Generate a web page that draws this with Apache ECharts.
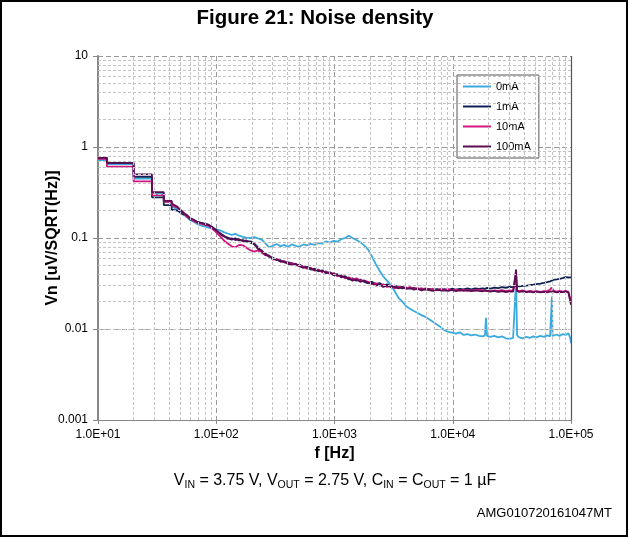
<!DOCTYPE html>
<html>
<head>
<meta charset="utf-8">
<script src="https://cdn.jsdelivr.net/npm/echarts@6/dist/echarts.min.js"></script>
<style>html,body{margin:0;padding:0;background:#fff}#c{width:629px;height:538px}</style>
</head>
<body>
<div id="c"></div>
<script>
// Frequencies [Hz] (duplicated values form the low-frequency steps)
const freqs = [
  10, 11.9, 11.9, 20, 20, 28.6, 28.6, 36, 36, 42, 42,
  47, 52, 56, 60, 65, 70, 75, 80, 86, 92,
  100, 108, 116, 125, 135, 145, 156, 168, 180, 195,
  210, 225, 242, 260, 280, 300, 325, 350, 375, 405,
  435, 470, 505, 545, 585, 630, 680, 730, 790, 850,
  915, 985, 1060, 1140, 1230, 1320, 1420, 1530, 1650, 1780,
  1920, 2070, 2230, 2400, 2580, 2780, 3000, 3230, 3480, 3750,
  4040, 4350, 4690, 5050, 5440, 5860, 6310, 6800, 7330, 7900,
  8510, 9170, 9880, 10650, 11470, 12360, 13320, 14350, 15460, 16660,
  17950, 18700, 19100, 19500, 20840, 22450, 24190, 26070, 28090, 30260,
  32400, 33600, 34300, 35000, 36500, 39000, 42000, 45000, 48000, 51000,
  55000, 59000, 63000, 66500, 68200, 69000, 69800, 72000, 76000, 80000,
  85000, 90000, 95000, 98500, 100000
];
const vn0mA = [
  0.72, 0.72, 0.65, 0.65, 0.45, 0.45, 0.31, 0.31, 0.25, 0.25, 0.225,
  0.205, 0.188, 0.17, 0.158, 0.150, 0.141, 0.137, 0.133, 0.130, 0.127,
  0.124, 0.121, 0.116, 0.112, 0.108, 0.111, 0.106, 0.103, 0.101, 0.100,
  0.102, 0.099, 0.096, 0.088, 0.079, 0.082, 0.086, 0.081, 0.084, 0.080,
  0.085, 0.082, 0.080, 0.085, 0.083, 0.086, 0.084, 0.088, 0.087, 0.092,
  0.089, 0.093, 0.091, 0.097, 0.100, 0.106, 0.100, 0.095, 0.090, 0.083,
  0.075, 0.063, 0.052, 0.044, 0.038, 0.034, 0.030, 0.026, 0.022, 0.020,
  0.0178, 0.0167, 0.0158, 0.0150, 0.0142, 0.0136, 0.0128, 0.0120, 0.0112, 0.0105,
  0.0097, 0.0093, 0.0091, 0.0089, 0.0092, 0.0086, 0.0088, 0.0085, 0.0087, 0.0084,
  0.0083, 0.0085, 0.0133, 0.0084, 0.0082, 0.0084, 0.0081, 0.0083, 0.0079, 0.0078,
  0.0080, 0.0082, 0.0350, 0.0085, 0.0081, 0.0079, 0.0082, 0.0080, 0.0083, 0.0081,
  0.0084, 0.0082, 0.0085, 0.0083, 0.0086, 0.0227, 0.0084, 0.0085, 0.0087, 0.0084,
  0.0088, 0.0086, 0.0090, 0.0080, 0.0070
];
const vn1mA = [
  0.76, 0.76, 0.67, 0.67, 0.47, 0.47, 0.28, 0.28, 0.23, 0.23, 0.205,
  0.200, 0.182, 0.178, 0.160, 0.156, 0.150, 0.146, 0.144, 0.140, 0.133,
  0.122, 0.110, 0.104, 0.101, 0.096, 0.099, 0.094, 0.095, 0.091, 0.092,
  0.087, 0.079, 0.071, 0.068, 0.062, 0.061, 0.057, 0.057, 0.054, 0.054,
  0.053, 0.050, 0.051, 0.048, 0.048, 0.045, 0.046, 0.043, 0.044, 0.041,
  0.042, 0.039, 0.040, 0.037, 0.038, 0.035, 0.036, 0.034, 0.035, 0.033,
  0.032, 0.033, 0.031, 0.032, 0.030, 0.031, 0.029, 0.030, 0.029, 0.028,
  0.0285, 0.0278, 0.0283, 0.0272, 0.0280, 0.0270, 0.0276, 0.0268, 0.0274, 0.0270,
  0.0275, 0.0268, 0.0278, 0.0270, 0.0276, 0.0272, 0.0280, 0.0273, 0.0279, 0.0276,
  0.0280, 0.0276, 0.0279, 0.0283, 0.0278, 0.0285, 0.0281, 0.0288, 0.0284, 0.0290,
  0.0288, 0.0292, 0.0300, 0.0289, 0.0294, 0.0297, 0.0300, 0.0304, 0.0308, 0.0312,
  0.0316, 0.0322, 0.0328, 0.0334, 0.0338, 0.0342, 0.0340, 0.0348, 0.0352, 0.0356,
  0.0362, 0.0372, 0.0368, 0.0375, 0.0370
];
const vn10mA = [
  0.74, 0.74, 0.61, 0.61, 0.42, 0.42, 0.296, 0.296, 0.25, 0.25, 0.23,
  0.215, 0.195, 0.172, 0.165, 0.152, 0.146, 0.143, 0.139, 0.136, 0.128,
  0.115, 0.104, 0.094, 0.087, 0.081, 0.079, 0.084, 0.083, 0.078, 0.073,
  0.071, 0.073, 0.069, 0.065, 0.064, 0.058, 0.059, 0.055, 0.056, 0.052,
  0.053, 0.051, 0.049, 0.049, 0.046, 0.047, 0.044, 0.045, 0.042, 0.043,
  0.040, 0.041, 0.038, 0.039, 0.036, 0.037, 0.035, 0.036, 0.034, 0.034,
  0.033, 0.031, 0.032, 0.030, 0.031, 0.029, 0.030, 0.028, 0.029, 0.029,
  0.0280, 0.0288, 0.0276, 0.0282, 0.0272, 0.0279, 0.0270, 0.0277, 0.0268, 0.0274,
  0.0268, 0.0274, 0.0266, 0.0271, 0.0264, 0.0270, 0.0262, 0.0268, 0.0265, 0.0270,
  0.0266, 0.0262, 0.0268, 0.0264, 0.0260, 0.0266, 0.0262, 0.0267, 0.0261, 0.0265,
  0.0263, 0.0268, 0.0400, 0.0264, 0.0260, 0.0265, 0.0258, 0.0262, 0.0257, 0.0261,
  0.0256, 0.0260, 0.0263, 0.0270, 0.0285, 0.0297, 0.0280, 0.0262, 0.0258, 0.0262,
  0.0258, 0.0262, 0.0256, 0.0250, 0.0200
];
const vn100mA = [
  0.76, 0.76, 0.67, 0.67, 0.50, 0.50, 0.32, 0.32, 0.256, 0.256, 0.24,
  0.220, 0.192, 0.180, 0.166, 0.158, 0.148, 0.147, 0.141, 0.139, 0.131,
  0.121, 0.113, 0.106, 0.098, 0.099, 0.095, 0.097, 0.092, 0.094, 0.089,
  0.085, 0.076, 0.073, 0.065, 0.064, 0.059, 0.058, 0.055, 0.055, 0.052,
  0.051, 0.052, 0.049, 0.047, 0.048, 0.046, 0.044, 0.044, 0.043, 0.042,
  0.041, 0.040, 0.039, 0.038, 0.037, 0.036, 0.034, 0.035, 0.033, 0.034,
  0.032, 0.032, 0.030, 0.031, 0.029, 0.030, 0.029, 0.029, 0.028, 0.029,
  0.0276, 0.0282, 0.0271, 0.0278, 0.0266, 0.0274, 0.0268, 0.0262, 0.0270, 0.0265,
  0.0266, 0.0262, 0.0269, 0.0260, 0.0267, 0.0263, 0.0268, 0.0261, 0.0266, 0.0262,
  0.0260, 0.0265, 0.0258, 0.0263, 0.0257, 0.0262, 0.0256, 0.0260, 0.0255, 0.0259,
  0.0258, 0.0262, 0.0450, 0.0260, 0.0256, 0.0259, 0.0254, 0.0258, 0.0253, 0.0257,
  0.0252, 0.0256, 0.0253, 0.0257, 0.0262, 0.0270, 0.0259, 0.0255, 0.0252, 0.0256,
  0.0254, 0.0258, 0.0252, 0.0240, 0.0185
];
const seriesNames = ['0mA', '1mA', '10mA', '100mA'];
const seriesColors = ['#3aaade', '#0e2252', '#d3157f', '#5b0d52'];
const xDecades = [10, 100, 1000, 10000];
const yDecades = [0.001, 0.01, 0.1, 1];
const minorMults = [2, 3, 4, 5, 6, 7, 8, 9];

const FONT = '"Liberation Sans", Arial, sans-serif';
const pairs = vals => freqs.map((f, i) => [f, vals[i]]);
const allVals = [vn0mA, vn1mA, vn10mA, vn100mA];

const minorLines = [];
xDecades.forEach(d => minorMults.forEach(m => minorLines.push({ xAxis: +(m * d).toPrecision(6) })));
yDecades.forEach(d => minorMults.forEach(m => minorLines.push({ yAxis: +(m * d).toPrecision(6) })));

const series = allVals.map((v, i) => ({
  name: seriesNames[i], type: 'line', data: pairs(v), showSymbol: false, symbol: 'none',
  z: 3, lineStyle: { width: 1.8, color: seriesColors[i] }, itemStyle: { color: seriesColors[i] }
}));
series.unshift({
  name: 'grid', type: 'line', data: [[10, 1]], showSymbol: false, symbol: 'none',
  z: 1, lineStyle: { opacity: 0 }, silent: true,
  markLine: {
    silent: true, symbol: ['none', 'none'], label: { show: false },
    lineStyle: { type: [3, 2], color: '#c4c4c4', width: 1 },
    animation: false, data: minorLines.concat([{ xAxis: 100000, lineStyle: { type: 'solid', color: '#555', width: 1.2 } }])
  }
});

const chart = echarts.init(document.getElementById('c'), null, { renderer: 'canvas' });
chart.setOption({
  animation: false,
  backgroundColor: '#fff',
  textStyle: { fontFamily: FONT },
  grid: { left: 98, right: 58, top: 56, bottom: 118 },
  legend: {
    data: seriesNames, orient: 'vertical', left: 457, top: 75,
    icon: 'path://M0,6H28V8H0Z', symbolKeepAspect: true,
    itemWidth: 28, itemHeight: 14, itemGap: 9,
    itemStyle: { borderWidth: 0 },
    padding: [6, 8, 6, 6], backgroundColor: '#fff', borderColor: '#555', borderWidth: 1,
    textStyle: { fontSize: 11, color: '#000', fontFamily: FONT }, selectedMode: false
  },
  xAxis: {
    type: 'log', logBase: 10, min: 10, max: 100000,
    name: 'f [Hz]', nameLocation: 'middle', nameGap: 23,
    nameTextStyle: { fontSize: 16, fontWeight: 'bold', color: '#000', fontFamily: FONT },
    axisLine: { show: true, lineStyle: { color: '#888', width: 1.2 } },
    axisTick: { show: true, length: 4, lineStyle: { color: '#888' } },
    axisLabel: { fontSize: 12, color: '#000', margin: 9, fontFamily: FONT,
      formatter: v => { const e = Math.round(Math.log10(v)); return '1.0E+' + (e < 10 ? '0' + e : e); } },
    splitLine: { show: true, lineStyle: { type: [5, 3], color: '#9a9a9a', width: 1 } }
  },
  yAxis: {
    type: 'log', logBase: 10, min: 0.001, max: 10,
    name: 'Vn [uV/SQRT(Hz)]', nameLocation: 'middle', nameGap: 37, nameMoveOverlap: false,
    nameTextStyle: { fontSize: 16, fontWeight: 'bold', color: '#000', fontFamily: FONT },
    axisLine: { show: true, lineStyle: { color: '#888', width: 2 } },
    axisTick: { show: true, length: 5, lineStyle: { color: '#888' } },
    axisLabel: { fontSize: 12, color: '#000', margin: 10, fontFamily: FONT,
      formatter: v => { const e = Math.round(Math.log10(v)); return e >= 0 ? String(Math.pow(10, e)) : (Math.pow(10, e)).toFixed(-e); } },
    splitLine: { show: true, lineStyle: { type: [5, 3], color: '#9a9a9a', width: 1 } }
  },
  graphic: [
    { type: 'rect', shape: { x: 1, y: 1, width: 626, height: 535 }, style: { fill: 'none', stroke: '#000', lineWidth: 2 }, z: 100, silent: true },
    { type: 'text', x: 315, y: 18, style: { text: 'Figure 21: Noise density', align: 'center', verticalAlign: 'middle', font: 'bold 20.5px ' + FONT, fill: '#000' } },
    { type: 'text', x: 335, y: 481, style: {
        text: 'V{s|IN} = 3.75 V, V{s|OUT} = 2.75 V, C{s|IN} = C{s|OUT} = 1 µF',
        align: 'center', verticalAlign: 'middle', font: '16px ' + FONT, fill: '#000',
        rich: { s: { fontSize: 10.5, fontFamily: FONT, padding: [8, 0, 0, 0], fill: '#000' } } } },
    { type: 'text', x: 612, y: 513, style: { text: 'AMG010720161047MT', align: 'right', verticalAlign: 'middle', font: '13px ' + FONT, fill: '#000' } }
  ],
  series: series
});
</script>
</body>
</html>
